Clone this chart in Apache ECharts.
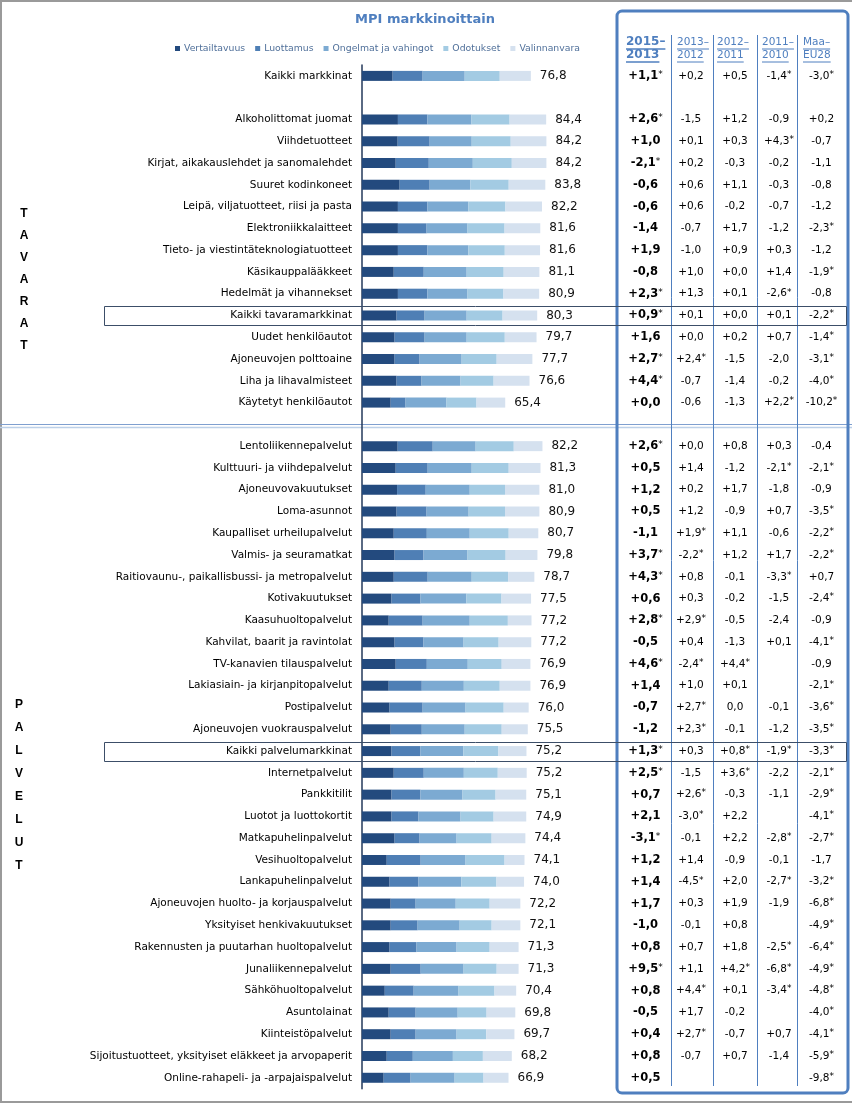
<!DOCTYPE html>
<html><head><meta charset="utf-8">
<script src="https://cdn.jsdelivr.net/npm/echarts@6/dist/echarts.min.js"></script>
<style>html,body{margin:0;padding:0;background:#fff}#c{width:852px;height:1103px}</style>
</head><body><div id="c"></div>
<script>
const categories = [
'Kaikki markkinat',' ',
'Alkoholittomat juomat','Viihdetuotteet','Kirjat, aikakauslehdet ja sanomalehdet','Suuret kodinkoneet',
'Leipä, viljatuotteet, riisi ja pasta','Elektroniikkalaitteet','Tieto- ja viestintäteknologiatuotteet',
'Käsikauppalääkkeet','Hedelmät ja vihannekset','Kaikki tavaramarkkinat','Uudet henkilöautot',
'Ajoneuvojen polttoaine','Liha ja lihavalmisteet','Käytetyt henkilöautot','  ',
'Lentoliikennepalvelut','Kulttuuri- ja viihdepalvelut','Ajoneuvovakuutukset','Loma-asunnot',
'Kaupalliset urheilupalvelut','Valmis- ja seuramatkat','Raitiovaunu-, paikallisbussi- ja metropalvelut',
'Kotivakuutukset','Kaasuhuoltopalvelut','Kahvilat, baarit ja ravintolat','TV-kanavien tilauspalvelut',
'Lakiasiain- ja kirjanpitopalvelut','Postipalvelut','Ajoneuvojen vuokrauspalvelut','Kaikki palvelumarkkinat',
'Internetpalvelut','Pankkitilit','Luotot ja luottokortit','Matkapuhelinpalvelut','Vesihuoltopalvelut',
'Lankapuhelinpalvelut','Ajoneuvojen huolto- ja korjauspalvelut','Yksityiset henkivakuutukset',
'Rakennusten ja puutarhan huoltopalvelut','Junaliikennepalvelut','Sähköhuoltopalvelut','Asuntolainat',
'Kiinteistöpalvelut','Sijoitustuotteet, yksityiset eläkkeet ja arvopaperit','Online-rahapeli- ja -arpajaispalvelut'
];
const totals = [76.8,null,84.4,84.2,84.2,83.8,82.2,81.6,81.6,81.1,80.9,80.3,79.7,77.7,76.6,65.4,null,
82.2,81.3,81.0,80.9,80.7,79.8,78.7,77.5,77.2,77.2,76.9,76.9,76.0,75.5,75.2,75.2,75.1,74.9,74.4,74.1,74.0,
72.2,72.1,71.3,71.3,70.4,69.8,69.7,68.2,66.9];

const seriesNames = ['Vertailtavuus','Luottamus','Ongelmat ja vahingot','Odotukset','Valinnanvara'];
const vertailtavuus = [14.0,null,16.4,16.3,15.4,17.2,16.4,16.4,16.4,14.5,16.4,15.8,14.9,14.9,15.8,13.1,null,
16.3,15.4,16.0,15.8,14.5,14.9,14.5,13.5,12.2,14.9,15.4,12.2,12.6,13.1,13.5,14.5,13.5,13.5,14.9,11.3,12.6,
13.1,13.1,12.6,13.1,10.4,12.2,13.1,11.3,9.9];
const luottamus = [13.7,null,13.5,14.6,15.1,13.7,13.5,13.1,13.5,13.7,13.5,12.8,13.7,11.4,11.4,6.8,null,
16.0,14.6,13.1,13.7,15.1,13.2,15.5,13.2,15.5,13.2,14.2,15.1,15.1,14.2,13.2,13.7,13.2,12.3,11.4,15.5,13.2,
11.4,12.3,12.3,13.7,13.2,12.3,11.4,11.9,12.3];
const ongelmat = [19.2,null,20.1,19.2,20.1,18.6,18.7,18.7,18.7,19.6,18.3,19.2,19.2,19.2,17.8,18.7,null,
19.6,20.1,20.1,19.2,19.6,20.1,20.1,21.0,21.5,18.3,18.7,19.2,19.6,19.6,19.6,18.3,19.2,19.2,16.9,20.5,19.6,
18.3,19.2,18.3,19.6,20.5,19.2,18.7,18.3,20.1];
const odotukset = [16.0,null,17.4,17.8,17.8,17.5,16.9,16.9,16.6,16.9,16.4,16.4,17.4,16.0,15.1,13.7,null,
17.4,16.9,16.1,16.6,17.8,17.4,16.6,16.0,17.4,16.0,15.5,16.4,17.4,16.9,16.0,15.5,15.1,15.1,16.0,17.8,16.0,
15.5,14.6,15.1,15.1,16.4,13.2,13.5,13.7,13.2];
const valinnanvara = [14.2,null,16.7,16.3,15.8,16.7,16.7,16.3,16.1,16.3,16.3,15.8,14.5,16.3,16.4,13.1,null,
13.1,14.5,15.7,15.7,13.5,14.5,12.0,13.5,10.8,14.9,13.1,14.0,11.4,11.9,12.8,13.2,14.0,14.9,15.4,9.1,12.6,
14.0,13.1,13.2,10.0,9.9,13.1,12.9,13.2,11.4];

const colHeaders = [['2015–','2013'],['2013–','2012'],['2012–','2011'],['2011–','2010'],['Maa–','EU28']];
const chg2015_2013 = ['+1,1*','','+2,6*','+1,0','-2,1*','-0,6','-0,6','-1,4','+1,9','-0,8','+2,3*','+0,9*','+1,6','+2,7*','+4,4*','+0,0','',
'+2,6*','+0,5','+1,2','+0,5','-1,1','+3,7*','+4,3*','+0,6','+2,8*','-0,5','+4,6*','+1,4','-0,7','-1,2','+1,3*',
'+2,5*','+0,7','+2,1','-3,1*','+1,2','+1,4','+1,7','-1,0','+0,8','+9,5*','+0,8','-0,5','+0,4','+0,8','+0,5'];
const chg2013_2012 = ['+0,2','','-1,5','+0,1','+0,2','+0,6','+0,6','-0,7','-1,0','+1,0','+1,3','+0,1','+0,0','+2,4*','-0,7','-0,6','',
'+0,0','+1,4','+0,2','+1,2','+1,9*','-2,2*','+0,8','+0,3','+2,9*','+0,4','-2,4*','+1,0','+2,7*','+2,3*','+0,3',
'-1,5','+2,6*','-3,0*','-0,1','+1,4','-4,5*','+0,3','-0,1','+0,7','+1,1','+4,4*','+1,7','+2,7*','-0,7',''];
const chg2012_2011 = ['+0,5','','+1,2','+0,3','-0,3','+1,1','-0,2','+1,7','+0,9','+0,0','+0,1','+0,0','+0,2','-1,5','-1,4','-1,3','',
'+0,8','-1,2','+1,7','-0,9','+1,1','+1,2','-0,1','-0,2','-0,5','-1,3','+4,4*','+0,1','0,0','-0,1','+0,8*',
'+3,6*','-0,3','+2,2','+2,2','-0,9','+2,0','+1,9','+0,8','+1,8','+4,2*','+0,1','-0,2','-0,7','+0,7',''];
const chg2011_2010 = ['-1,4*','','-0,9','+4,3*','-0,2','-0,3','-0,7','-1,2','+0,3','+1,4','-2,6*','+0,1','+0,7','-2,0','-0,2','+2,2*','',
'+0,3','-2,1*','-1,8','+0,7','-0,6','+1,7','-3,3*','-1,5','-2,4','+0,1','','','-0,1','-1,2','-1,9*',
'-2,2','-1,1','','-2,8*','-0,1','-2,7*','-1,9','','-2,5*','-6,8*','-3,4*','','+0,7','-1,4',''];
const diffEU28 = ['-3,0*','','+0,2','-0,7','-1,1','-0,8','-1,2','-2,3*','-1,2','-1,9*','-0,8','-2,2*','-1,4*','-3,1*','-4,0*','-10,2*','',
'-0,4','-2,1*','-0,9','-3,5*','-2,2*','-2,2*','+0,7','-2,4*','-0,9','-4,1*','-0,9','-2,1*','-3,6*','-3,5*','-3,3*',
'-2,1*','-2,9*','-4,1*','-2,7*','-1,7','-3,2*','-6,8*','-4,9*','-6,4*','-4,9*','-4,8*','-4,0*','-4,1*','-5,9*','-9,8*'];
const highlightRows = ['Kaikki tavaramarkkinat','Kaikki palvelumarkkinat'];
const groupLabels = ['TAVARAT','PALVELUT'];

// ---- layout ----
const FONT = '"DejaVu Sans", Verdana, sans-serif';
const ROW_H = 21.78, GRID_TOP = 65, GRID_LEFT = 362;
const colors = ['#234a7e','#4f7fb5','#7caad2','#a3cbe3','#d5e1ef'];
const colX = [645.5, 691, 735, 779, 821.5];
const headX = [626, 677, 717, 762, 803];
const sepX = [671.5, 713.5, 757.5, 797.5];
const blue = '#4f7fbf';

const tableCols = [chg2015_2013, chg2013_2012, chg2012_2011, chg2011_2010, diffEU28];
const tableItems = [];
tableCols.forEach((col, ci) => col.forEach((t, ri) => { if (t) tableItems.push({value:[0, ri], col: ci, text: t}); }));

const segs = [vertailtavuus, luottamus, ongelmat, odotukset, valinnanvara];
const barSeries = segs.map((d, i) => ({
  name: seriesNames[i], type: 'bar', stack: 'mpi', barWidth: 10, data: d,
  itemStyle: {color: colors[i]},
  label: i === 4 ? {show: true, position: 'right', distance: 9, fontSize: 12, fontFamily: FONT, color: '#111',
    formatter: p => totals[p.dataIndex] == null ? '' : totals[p.dataIndex].toFixed(1).replace('.', ',')} : {show: false}
}));

const ctx = document.createElement('canvas').getContext('2d');
function tw(t, f) { ctx.font = f; return ctx.measureText(t).width; }

const graphics = [];
// outer image frame
graphics.push({type:'line', shape:{x1:0,y1:1,x2:852,y2:1}, style:{stroke:'#9a9a9a', lineWidth:2}});
graphics.push({type:'line', shape:{x1:1,y1:0,x2:1,y2:1103}, style:{stroke:'#9a9a9a', lineWidth:2}});
graphics.push({type:'line', shape:{x1:0,y1:1102,x2:852,y2:1102}, style:{stroke:'#9a9a9a', lineWidth:2}});
// title
graphics.push({type:'text', x:425, y:20, style:{text:'MPI markkinoittain', align:'center', verticalAlign:'middle',
  font:'bold 13px ' + FONT, fill: blue}});
// group labels
graphics.push({type:'text', x:24, y:203, style:{text: groupLabels[0].split('').join('\n'), align:'center', verticalAlign:'top',
  fontFamily:'"Liberation Sans", Arial, sans-serif', fontWeight:'bold', fontSize:12, lineHeight:22, fill:'#000'}});
graphics.push({type:'text', x:19, y:693, style:{text: groupLabels[1].split('').join('\n'), align:'center', verticalAlign:'top',
  fontFamily:'"Liberation Sans", Arial, sans-serif', fontWeight:'bold', fontSize:12, lineHeight:23, fill:'#000'}});
// divider between groups
graphics.push({type:'line', shape:{x1:0,y1:424.5,x2:852,y2:424.5}, style:{stroke:'#7f9fcf', lineWidth:1.2}});
graphics.push({type:'line', shape:{x1:0,y1:427.5,x2:852,y2:427.5}, style:{stroke:'#bcd0e8', lineWidth:1.5}});
// table frame
graphics.push({type:'rect', shape:{x:617, y:11, width:231, height:1082, r:5}, style:{fill:'none', stroke: blue, lineWidth:3}});
sepX.forEach(x => graphics.push({type:'line', shape:{x1:x,y1:35,x2:x,y2:1086}, style:{stroke: blue, lineWidth:1}}));
// headers
colHeaders.forEach((h, i) => {
  const f = (i === 0 ? 'bold 12px ' : '10.5px ') + FONT;
  h.forEach((t, j) => {
    const y = 42 + j * 13;
    graphics.push({type:'text', x: headX[i], y: y, style:{text: t, align:'left', verticalAlign:'middle', font: f, fill: blue}});
    const w = tw(t, f);
    graphics.push({type:'line', shape:{x1: headX[i], y1: y + 7, x2: headX[i] + w, y2: y + 7}, style:{stroke: blue, lineWidth: i === 0 ? 1.5 : 1}});
  });
});

const option = {
  animation: false,
  backgroundColor: '#fff',
  legend: {
    data: seriesNames, left: 170, top: 39, icon: 'rect', itemWidth: 5, itemHeight: 5, itemGap: 10,
    textStyle: {fontSize: 9.3, fontFamily: FONT, color: '#50709a', padding: [0,0,0,-1]}
  },
  grid: {left: GRID_LEFT, top: GRID_TOP, width: 219, height: categories.length * ROW_H},
  xAxis: {type: 'value', min: 0, max: 100, show: false},
  yAxis: {
    type: 'category', data: categories, inverse: true,
    axisTick: {show: false},
    axisLine: {show: true, lineStyle: {color: '#23385a', width: 1.5}},
    axisLabel: {interval: 0, margin: 10, fontSize: 10.5, fontFamily: FONT, color: '#000'},
    splitLine: {show: false}
  },
  graphic: graphics,
  series: barSeries.concat([
    {
      type: 'custom', name: 'table', clip: false, silent: true,
      data: tableItems.map(d => d.value), encode: {x: 0, y: 1},
      renderItem: (params, api) => {
        const it = tableItems[params.dataIndex];
        const y = api.coord([0, api.value(1)])[1];
        const star = it.text.endsWith('*');
        const num = star ? it.text.slice(0, -1) : it.text;
        const bold = it.col === 0;
        return {type: 'text', x: colX[it.col], y: y, style: {
          text: '{n|' + num + '}' + (star ? '{s|*}' : ''), align: 'center', verticalAlign: 'middle',
          rich: {
            n: {fontSize: bold ? 11.5 : 10.5, fontWeight: bold ? 'bold' : 'normal', fontFamily: FONT, fill: '#000'},
            s: {fontSize: 9, fontFamily: FONT, fill: '#000', padding: [0, 0, 3, 0]}
          }}};
      }
    },
    {
      type: 'custom', name: 'highlight', clip: false, silent: true,
      data: highlightRows.map(n => [0, categories.indexOf(n)]), encode: {x: 0, y: 1},
      renderItem: (params, api) => {
        const y = api.coord([0, api.value(1)])[1];
        return {type: 'rect', shape: {x: 104.5, y: Math.round(y - 9.5) + 0.5, width: 742, height: 19},
          style: {fill: 'none', stroke: '#3c4e68', lineWidth: 1}};
      }
    }
  ])
};
const chart = echarts.init(document.getElementById('c'));
chart.setOption(option);
</script></body></html>
